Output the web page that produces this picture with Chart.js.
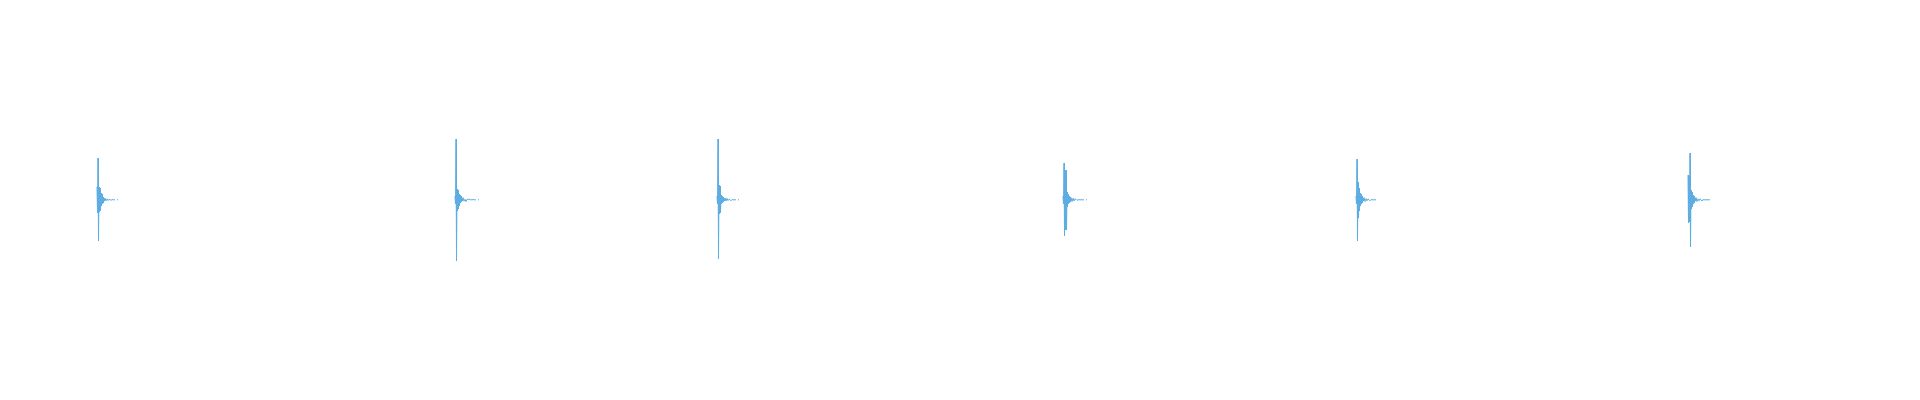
<!DOCTYPE html>
<html>
<head>
<meta charset="utf-8">
<script src="https://cdn.jsdelivr.net/npm/chart.js@4.4.1/dist/chart.umd.min.js"></script>
<style>
    html, body { margin: 0; padding: 0; background: #fff; }
    #wrap { width: 1920px; height: 400px; position: relative; }
</style>
</head>
<body>
<div id="wrap"><canvas id="wave"></canvas></div>
<script>
// time axis in ms, amplitude normalised to -1..1
const timeRangeMs = [0, 1920];
const burstStepMs = 0.5;
const tailStepMs = 1;

// start of each click (ms)
const clickStarts = [97, 455, 717, 1063, 1356, 1688];

// first 8 ms of each click, sampled every 0.5 ms
const burst1 = [0.065, -0.065, 0.21, -0.205, 0.065, -0.06, 0.06, -0.055, 0.035, -0.03, 0.03, -0.02, 0.015, -0.015, 0.01, -0.005];
const burst2 = [0.02, -0.02, 0.305, -0.305, 0.055, -0.055, 0.05, -0.045, 0.03, -0.03, 0.025, -0.015, 0.02, -0.01, 0.01, -0.005];
const burst3 = [0.02, -0.02, 0.305, -0.295, 0.075, -0.07, 0.07, -0.065, 0.025, -0.02, 0.02, -0.015, 0.015, -0.01, 0.01, -0.005];
const burst4 = [0.02, -0.02, 0.185, -0.18, 0.15, -0.15, 0.15, -0.15, 0.04, -0.035, 0.03, -0.02, 0.02, -0.015, 0.015, -0.01];
const burst5 = [0.02, -0.02, 0.205, -0.205, 0.09, -0.09, 0.06, -0.055, 0.035, -0.03, 0.03, -0.02, 0.02, -0.015, 0.01, -0.005];
const burst6 = [0.125, -0.115, 0.12, -0.11, 0.235, -0.235, 0.05, -0.045, 0.04, -0.035, 0.025, -0.02, 0.02, -0.015, 0.01, -0.005];

// decay tail after the burst, sampled every 1 ms (null = silence)
const tail1 = [0.008, -0.004, 0.006, -0.003, 0.003, 0.002, -0.002, 0.002, 0.001, 0.001, 0.001, null, 0.002, 0.001, null];
const tail2 = [0.012, -0.006, 0.004, -0.008, 0.003, 0.002, 0.006, 0.002, 0.001, 0.001, 0.002, 0.001, 0.001, 0.001, null, 0.001, 0.001, null];
const tail3 = [0.01, -0.005, 0.008, -0.003, 0.004, 0.002, -0.004, 0.002, 0.001, 0.001, 0.001, 0.001, null, 0.001, 0.001, null];
const tail4 = [0.012, -0.008, 0.009, -0.005, 0.006, 0.003, -0.002, 0.002, 0.001, 0.001, 0.001, 0.001, 0.001, 0.001, null, 0.001, 0.001, null];
const tail5 = [0.012, -0.008, 0.007, -0.004, 0.005, 0.002, -0.004, 0.002, 0.001, 0.001, 0.001, 0.001, 0.001, null];
const tail6 = [0.012, -0.008, 0.006, -0.004, 0.006, 0.002, -0.005, 0.002, 0.001, 0.001, 0.001, 0.001, 0.001, 0.001, 0.001, null];

const bursts = [burst1, burst2, burst3, burst4, burst5, burst6];
const tails = [tail1, tail2, tail3, tail4, tail5, tail6];

const points = [];
clickStarts.forEach((start, c) => {
    const burst = bursts[c];
    burst.forEach((v, i) => points.push({ x: start + i * burstStepMs, y: v }));
    const tailStart = start + burst.length * burstStepMs;
    tails[c].forEach((v, j) => points.push({ x: tailStart + j * tailStepMs, y: v }));
    points.push({ x: tailStart + tails[c].length * tailStepMs, y: null });
});

new Chart(document.getElementById('wave').getContext('2d'), {
    type: 'line',
    data: {
        datasets: [{
            label: 'waveform',
            data: points,
            borderColor: '#5dade2',
            borderWidth: 1,
            borderJoinStyle: 'bevel',
            pointRadius: 0,
            tension: 0,
            fill: false,
            spanGaps: false
        }]
    },
    options: {
        responsive: true,
        maintainAspectRatio: false,
        animation: false,
        layout: { padding: 0 },
        plugins: { legend: { display: false }, tooltip: { enabled: false } },
        scales: {
            x: { type: 'linear', min: timeRangeMs[0], max: timeRangeMs[1], display: false },
            y: { min: -1, max: 1, display: false }
        }
    }
});
</script>
</body>
</html>
